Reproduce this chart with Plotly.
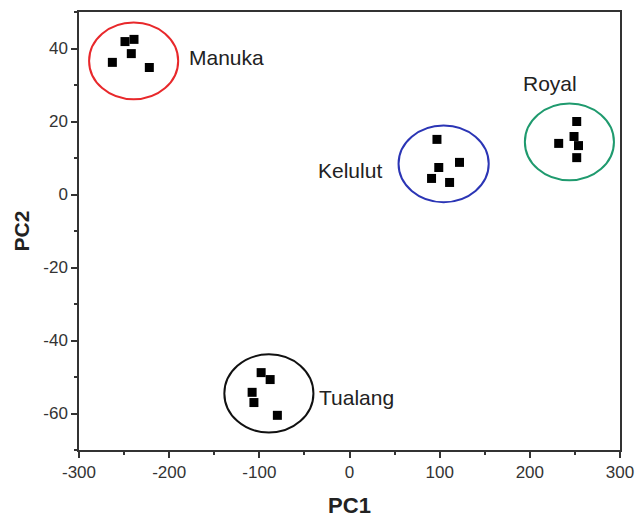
import plotly.graph_objects as go

# PCA scores per honey type
groups = ["Manuka", "Kelulut", "Royal", "Tualang"]
pc1 = {
    "Manuka": [-249, -239, -242, -263, -222],
    "Kelulut": [97, 99, 122, 91, 111],
    "Royal": [252, 249, 254, 232, 252],
    "Tualang": [-98, -88, -108, -106, -80],
}
pc2 = {
    "Manuka": [41.9, 42.5, 38.6, 36.2, 34.8],
    "Kelulut": [15.1, 7.4, 8.8, 4.4, 3.3],
    "Royal": [20.0, 15.9, 13.4, 14.0, 10.1],
    "Tualang": [-48.8, -50.7, -54.2, -57.0, -60.5],
}

# Axis ticks (plain hyphen for negatives)
x_ticks = [-300, -200, -100, 0, 100, 200, 300]
y_ticks = [-60, -40, -20, 0, 20, 40]

# Group outlines (centre and half-widths in data units)
ring_cx = [-239.4, 104.4, 243.9, -89.4]
ring_cy = [36.6, 8.4, 14.4, -54.5]
ring_rx = [49.4, 50.0, 49.4, 49.4]
ring_ry = [10.5, 10.5, 10.5, 10.7]
ring_colors = ["#e8282b", "#2b35b5", "#1f9a6e", "#111111"]

# Group label anchors
label_x = [-180, 38, 222, -36]
label_y = [37.5, 6.6, 30.3, -55.6]
label_anchor = ["left", "right", "center", "left"]

FONT = "Liberation Sans, Arial"

fig = go.Figure()
for g in groups:
    fig.add_trace(go.Scatter(
        x=pc1[g], y=pc2[g], mode="markers", name=g,
        marker=dict(symbol="square", size=9, color="black"),
        showlegend=False,
    ))

for cx, cy, rx, ry, c in zip(ring_cx, ring_cy, ring_rx, ring_ry, ring_colors):
    fig.add_shape(type="circle", xref="x", yref="y",
                  x0=cx - rx, x1=cx + rx, y0=cy - ry, y1=cy + ry,
                  line=dict(color=c, width=2))

for g, lx, ly, anc in zip(groups, label_x, label_y, label_anchor):
    fig.add_annotation(x=lx, y=ly, text=g, showarrow=False, xanchor=anc,
                       font=dict(family=FONT, size=21, color="#222"))

axis_common = dict(
    showline=True, linecolor="#333", linewidth=1.5, mirror=True,
    ticks="outside", ticklen=6, tickwidth=1.5, tickcolor="#333",
    showgrid=False, zeroline=False, automargin=False,
    tickfont=dict(family=FONT, size=17, color="#333"),
)

fig.update_layout(
    width=638, height=518,
    margin=dict(l=79, r=18, t=12, b=68),
    plot_bgcolor="white", paper_bgcolor="white",
    xaxis=dict(range=[-300, 300], tickvals=x_ticks,
               ticktext=[str(v) for v in x_ticks],
               minor=dict(dtick=50, ticks="outside", ticklen=3, tickcolor="#333"),
               title=dict(text="<b>PC1</b>", standoff=20,
                          font=dict(family=FONT, size=22, color="#222")),
               **axis_common),
    yaxis=dict(range=[-70, 50], tickvals=y_ticks,
               ticktext=[str(v) for v in y_ticks],
               minor=dict(dtick=10, ticks="outside", ticklen=3, tickcolor="#333"),
               title=dict(text="<b>PC2</b>", standoff=8,
                          font=dict(family=FONT, size=21, color="#222")),
               **axis_common),
)

fig.write_html("out.html")
